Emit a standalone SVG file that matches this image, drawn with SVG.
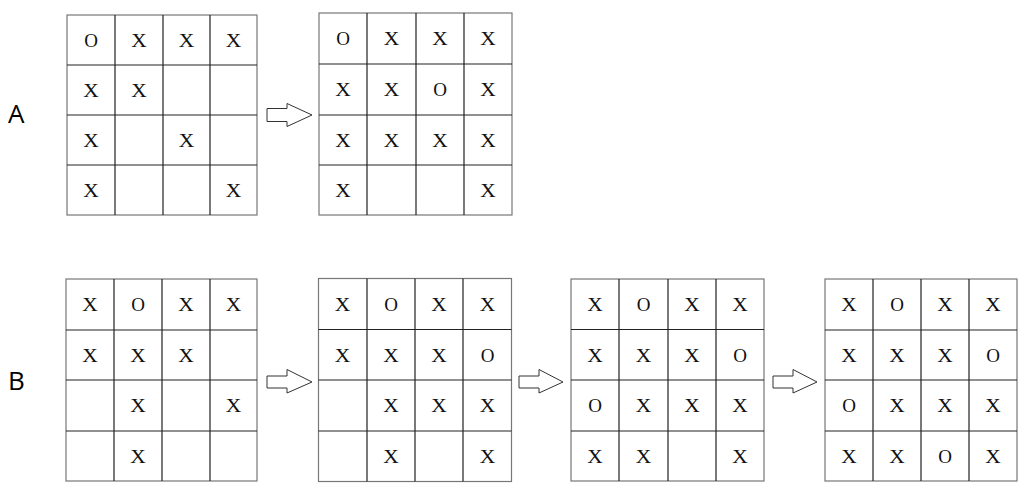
<svg xmlns="http://www.w3.org/2000/svg" width="1031" height="500" viewBox="0 0 1031 500">
<style>
.frame{fill:#fff;stroke:#777;stroke-width:1.2}
.ln{stroke:#222;stroke-width:1.2;fill:none}
.m{font-family:"Liberation Serif","Times New Roman",serif;font-size:19px;fill:#111;text-anchor:middle}
.lab{font-family:"Open Sans","Liberation Sans",sans-serif;font-size:26px;fill:#000}
.arr{fill:#fff;stroke:#333;stroke-width:1}
</style>
<rect width="1031" height="500" fill="#fff"/>
<text class="lab" x="8" y="123">A</text>
<text class="lab" x="8" y="390">B</text>

<g id="gridA1">
<rect class="frame" x="67" y="15" width="190" height="200"/>
<path class="ln" d="M115 15V215M163 15V215M210 15V215M67 65H257M67 115H257M67 165H257"/>
<text class="m" x="91" y="46.5">O</text><text class="m" x="139" y="46.5" textLength="15.5" lengthAdjust="spacingAndGlyphs">X</text><text class="m" x="186.5" y="46.5" textLength="15.5" lengthAdjust="spacingAndGlyphs">X</text><text class="m" x="233.5" y="46.5" textLength="15.5" lengthAdjust="spacingAndGlyphs">X</text>
<text class="m" x="91" y="96.5" textLength="15.5" lengthAdjust="spacingAndGlyphs">X</text><text class="m" x="139" y="96.5" textLength="15.5" lengthAdjust="spacingAndGlyphs">X</text>
<text class="m" x="91" y="146.5" textLength="15.5" lengthAdjust="spacingAndGlyphs">X</text><text class="m" x="186.5" y="146.5" textLength="15.5" lengthAdjust="spacingAndGlyphs">X</text>
<text class="m" x="91" y="196.5" textLength="15.5" lengthAdjust="spacingAndGlyphs">X</text><text class="m" x="233.5" y="196.5" textLength="15.5" lengthAdjust="spacingAndGlyphs">X</text>
</g>

<g id="gridA2">
<rect class="frame" x="319" y="13" width="193" height="202"/>
<path class="ln" d="M367 13V215M416 13V215M464 13V215M319 64H512M319 115H512M319 165H512"/>
<text class="m" x="343" y="45">O</text><text class="m" x="391.5" y="45" textLength="15.5" lengthAdjust="spacingAndGlyphs">X</text><text class="m" x="440" y="45" textLength="15.5" lengthAdjust="spacingAndGlyphs">X</text><text class="m" x="488" y="45" textLength="15.5" lengthAdjust="spacingAndGlyphs">X</text>
<text class="m" x="343" y="96" textLength="15.5" lengthAdjust="spacingAndGlyphs">X</text><text class="m" x="391.5" y="96" textLength="15.5" lengthAdjust="spacingAndGlyphs">X</text><text class="m" x="440" y="96">O</text><text class="m" x="488" y="96" textLength="15.5" lengthAdjust="spacingAndGlyphs">X</text>
<text class="m" x="343" y="146.5" textLength="15.5" lengthAdjust="spacingAndGlyphs">X</text><text class="m" x="391.5" y="146.5" textLength="15.5" lengthAdjust="spacingAndGlyphs">X</text><text class="m" x="440" y="146.5" textLength="15.5" lengthAdjust="spacingAndGlyphs">X</text><text class="m" x="488" y="146.5" textLength="15.5" lengthAdjust="spacingAndGlyphs">X</text>
<text class="m" x="343" y="196.5" textLength="15.5" lengthAdjust="spacingAndGlyphs">X</text><text class="m" x="488" y="196.5" textLength="15.5" lengthAdjust="spacingAndGlyphs">X</text>
</g>

<g id="gridB1">
<rect class="frame" x="66" y="279" width="191" height="202"/>
<path class="ln" d="M114 279V481M162 279V481M210 279V481M66 330H257M66 380H257M66 431H257"/>
<text class="m" x="90" y="311" textLength="15.5" lengthAdjust="spacingAndGlyphs">X</text><text class="m" x="138" y="311">O</text><text class="m" x="186" y="311" textLength="15.5" lengthAdjust="spacingAndGlyphs">X</text><text class="m" x="233.5" y="311" textLength="15.5" lengthAdjust="spacingAndGlyphs">X</text>
<text class="m" x="90" y="361.5" textLength="15.5" lengthAdjust="spacingAndGlyphs">X</text><text class="m" x="138" y="361.5" textLength="15.5" lengthAdjust="spacingAndGlyphs">X</text><text class="m" x="186" y="361.5" textLength="15.5" lengthAdjust="spacingAndGlyphs">X</text>
<text class="m" x="138" y="412" textLength="15.5" lengthAdjust="spacingAndGlyphs">X</text><text class="m" x="233.5" y="412" textLength="15.5" lengthAdjust="spacingAndGlyphs">X</text>
<text class="m" x="138" y="462.5" textLength="15.5" lengthAdjust="spacingAndGlyphs">X</text>
</g>

<g id="gridB2">
<rect class="frame" x="318.5" y="278.5" width="193" height="203"/>
<path class="ln" d="M367 278.5V481.5M415 278.5V481.5M463 278.5V481.5M318.5 329.5H511.5M318.5 380H511.5M318.5 431H511.5"/>
<text class="m" x="342.5" y="310.5" textLength="15.5" lengthAdjust="spacingAndGlyphs">X</text><text class="m" x="391" y="310.5">O</text><text class="m" x="439" y="310.5" textLength="15.5" lengthAdjust="spacingAndGlyphs">X</text><text class="m" x="487.5" y="310.5" textLength="15.5" lengthAdjust="spacingAndGlyphs">X</text>
<text class="m" x="342.5" y="361.5" textLength="15.5" lengthAdjust="spacingAndGlyphs">X</text><text class="m" x="391" y="361.5" textLength="15.5" lengthAdjust="spacingAndGlyphs">X</text><text class="m" x="439" y="361.5" textLength="15.5" lengthAdjust="spacingAndGlyphs">X</text><text class="m" x="487.5" y="361.5">O</text>
<text class="m" x="391" y="412" textLength="15.5" lengthAdjust="spacingAndGlyphs">X</text><text class="m" x="439" y="412" textLength="15.5" lengthAdjust="spacingAndGlyphs">X</text><text class="m" x="487.5" y="412" textLength="15.5" lengthAdjust="spacingAndGlyphs">X</text>
<text class="m" x="391" y="462.5" textLength="15.5" lengthAdjust="spacingAndGlyphs">X</text><text class="m" x="487.5" y="462.5" textLength="15.5" lengthAdjust="spacingAndGlyphs">X</text>
</g>

<g id="gridB3">
<rect class="frame" x="571" y="279" width="193" height="202"/>
<path class="ln" d="M619 279V481M668 279V481M716 279V481M571 329.5H764M571 380H764M571 431H764"/>
<text class="m" x="595" y="310.5" textLength="15.5" lengthAdjust="spacingAndGlyphs">X</text><text class="m" x="643.5" y="310.5">O</text><text class="m" x="692" y="310.5" textLength="15.5" lengthAdjust="spacingAndGlyphs">X</text><text class="m" x="740" y="310.5" textLength="15.5" lengthAdjust="spacingAndGlyphs">X</text>
<text class="m" x="595" y="361.5" textLength="15.5" lengthAdjust="spacingAndGlyphs">X</text><text class="m" x="643.5" y="361.5" textLength="15.5" lengthAdjust="spacingAndGlyphs">X</text><text class="m" x="692" y="361.5" textLength="15.5" lengthAdjust="spacingAndGlyphs">X</text><text class="m" x="740" y="361.5">O</text>
<text class="m" x="595" y="412">O</text><text class="m" x="643.5" y="412" textLength="15.5" lengthAdjust="spacingAndGlyphs">X</text><text class="m" x="692" y="412" textLength="15.5" lengthAdjust="spacingAndGlyphs">X</text><text class="m" x="740" y="412" textLength="15.5" lengthAdjust="spacingAndGlyphs">X</text>
<text class="m" x="595" y="462.5" textLength="15.5" lengthAdjust="spacingAndGlyphs">X</text><text class="m" x="643.5" y="462.5" textLength="15.5" lengthAdjust="spacingAndGlyphs">X</text><text class="m" x="740" y="462.5" textLength="15.5" lengthAdjust="spacingAndGlyphs">X</text>
</g>

<g id="gridB4">
<rect class="frame" x="825" y="279" width="192" height="202"/>
<path class="ln" d="M873 279V481M921 279V481M969 279V481M825 330H1017M825 380H1017M825 431H1017"/>
<text class="m" x="849" y="310.5" textLength="15.5" lengthAdjust="spacingAndGlyphs">X</text><text class="m" x="897" y="310.5">O</text><text class="m" x="945" y="310.5" textLength="15.5" lengthAdjust="spacingAndGlyphs">X</text><text class="m" x="993" y="310.5" textLength="15.5" lengthAdjust="spacingAndGlyphs">X</text>
<text class="m" x="849" y="361.5" textLength="15.5" lengthAdjust="spacingAndGlyphs">X</text><text class="m" x="897" y="361.5" textLength="15.5" lengthAdjust="spacingAndGlyphs">X</text><text class="m" x="945" y="361.5" textLength="15.5" lengthAdjust="spacingAndGlyphs">X</text><text class="m" x="993" y="361.5">O</text>
<text class="m" x="849" y="412">O</text><text class="m" x="897" y="412" textLength="15.5" lengthAdjust="spacingAndGlyphs">X</text><text class="m" x="945" y="412" textLength="15.5" lengthAdjust="spacingAndGlyphs">X</text><text class="m" x="993" y="412" textLength="15.5" lengthAdjust="spacingAndGlyphs">X</text>
<text class="m" x="849" y="462.5" textLength="15.5" lengthAdjust="spacingAndGlyphs">X</text><text class="m" x="897" y="462.5" textLength="15.5" lengthAdjust="spacingAndGlyphs">X</text><text class="m" x="945" y="462.5">O</text><text class="m" x="993" y="462.5" textLength="15.5" lengthAdjust="spacingAndGlyphs">X</text>
</g>

<g id="connectors">
<polygon class="arr" points="267,108.5 287,108.5 287,103.5 312,115 287,126.5 287,121.5 267,121.5"/>
<polygon class="arr" points="267,376 287,376 287,369.5 312,382 287,393 287,388 267,388"/>
<polygon class="arr" points="519,376 539,376 539,369.5 563,382 539,393 539,388 519,388"/>
<polygon class="arr" points="773,376 793,376 793,369.5 817,382 793,393 793,388 773,388"/>
</g>
</svg>
